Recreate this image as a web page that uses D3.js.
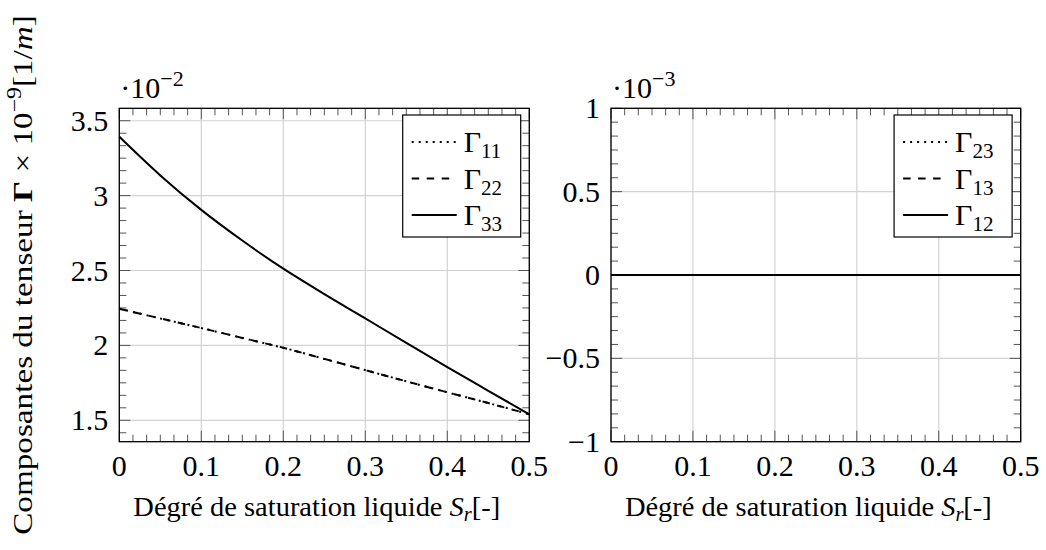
<!DOCTYPE html>
<html>
<head>
<meta charset="utf-8">
<script src="https://cdn.jsdelivr.net/npm/d3@7"></script>
<style>
  body { margin: 0; background: #fff; }
  text { font-family: "Liberation Serif", "Times New Roman", serif; fill: #000; }
</style>
</head>
<body>
<div id="chart"></div>
<script>
// Degree of saturation (x) and tensor components
const satValues = [0, 0.05, 0.1, 0.15, 0.2, 0.25, 0.3, 0.35, 0.4, 0.45, 0.5];
// diagonal components, unit 1e-2
const gamma11 = [2.245, 2.18, 2.116, 2.05, 1.984, 1.91, 1.835, 1.76, 1.687, 1.615, 1.54];
const gamma22 = [2.245, 2.18, 2.116, 2.05, 1.984, 1.91, 1.835, 1.76, 1.687, 1.615, 1.54];
const gamma33 = [3.393, 3.135, 2.905, 2.70, 2.512, 2.343, 2.18, 2.017, 1.855, 1.697, 1.54];
// off-diagonal components, unit 1e-3
const gamma23 = [0, 0, 0, 0, 0, 0, 0, 0, 0, 0, 0];
const gamma13 = [0, 0, 0, 0, 0, 0, 0, 0, 0, 0, 0];
const gamma12 = [0, 0, 0, 0, 0, 0, 0, 0, 0, 0, 0];

const xTicks = [0, 0.1, 0.2, 0.3, 0.4, 0.5];
const yTicksLeft = [1.5, 2, 2.5, 3, 3.5];
const yTicksRight = [-1, -0.5, 0, 0.5, 1];

const width = 1046;
const height = 550;

const svg = d3
  .select("#chart")
  .append("svg")
  .attr("width", width)
  .attr("height", height);

const plotTop = 108.3;
const plotBottom = 441.7;
const tickFs = 30;
const labelFs = 28;

// number format like pgfplots (0, 0.1 ... and a real minus sign)
const fmt = (v) => String(+v.toFixed(3)).replace("-", "\u2212");

// squeeze/stretch a text horizontally so it spans the same length as the reference (CM is wider than Times)
function fitWidth(sel, target) {
  const w = sel.node().getBBox().width;
  const cur = sel.attr("transform") || "";
  sel.attr("transform", cur + " scale(" + target / w + ",1)");
}

function drawPanel(opts) {
  const g = svg.append("g");
  const x = d3.scaleLinear().domain([0, 0.5]).range([opts.left, opts.right]);
  const y = d3.scaleLinear().domain(opts.yDomain).range([plotBottom, plotTop]);

  // grid
  g.selectAll(".gx")
    .data(xTicks)
    .join("line")
    .attr("x1", (d) => x(d))
    .attr("x2", (d) => x(d))
    .attr("y1", plotTop)
    .attr("y2", plotBottom)
    .attr("stroke", "#d3d3d3")
    .attr("stroke-width", 1.2);
  g.selectAll(".gy")
    .data(opts.yTicks)
    .join("line")
    .attr("x1", opts.left)
    .attr("x2", opts.right)
    .attr("y1", (d) => y(d))
    .attr("y2", (d) => y(d))
    .attr("stroke", "#d3d3d3")
    .attr("stroke-width", 1.2);

  // minor ticks, 5 between each pair of majors
  const xMinor = d3.range(0, 31).map((k) => k * (0.1 / 6)).filter((v) => Math.round(v * 600) % 60 !== 0);
  const yStep = 0.5 / 6;
  const yMinor = d3
    .range(-30, 60)
    .map((k) => opts.yTicks[0] + k * yStep)
    .filter((v) => v >= opts.yDomain[0] - 1e-9 && v <= opts.yDomain[1] + 1e-9)
    .filter((v) => Math.abs(v * 2 - Math.round(v * 2)) > 1e-6);

  const tickCol = "#555";
  function xTickMarks(data, len) {
    [plotBottom, plotTop].forEach((yy, i) => {
      g.selectAll(null)
        .data(data)
        .join("line")
        .attr("x1", (d) => x(d))
        .attr("x2", (d) => x(d))
        .attr("y1", yy)
        .attr("y2", i === 0 ? yy - len : yy + len)
        .attr("stroke", tickCol)
        .attr("stroke-width", 1);
    });
  }
  function yTickMarks(data, len) {
    [opts.left, opts.right].forEach((xx, i) => {
      g.selectAll(null)
        .data(data)
        .join("line")
        .attr("y1", (d) => y(d))
        .attr("y2", (d) => y(d))
        .attr("x1", xx)
        .attr("x2", i === 0 ? xx + len : xx - len)
        .attr("stroke", tickCol)
        .attr("stroke-width", 1);
    });
  }
  xTickMarks(xMinor, 7);
  xTickMarks(xTicks, 11);
  yTickMarks(yMinor, 7);
  yTickMarks(opts.yTicks, 11);

  // curves
  const line = d3
    .line()
    .x((d, i) => x(satValues[i]))
    .y((d) => y(d))
    .curve(d3.curveMonotoneX);

  opts.series.forEach((s) => {
    g.append("path")
      .datum(s.values)
      .attr("d", line)
      .attr("fill", "none")
      .attr("stroke", "#000")
      .attr("stroke-width", 2)
      .attr("stroke-dasharray", s.dash);
  });

  // frame
  g.append("rect")
    .attr("x", opts.left)
    .attr("y", plotTop)
    .attr("width", opts.right - opts.left)
    .attr("height", plotBottom - plotTop)
    .attr("fill", "none")
    .attr("stroke", "#000")
    .attr("stroke-width", 1.3);

  // tick labels
  g.selectAll(null)
    .data(xTicks)
    .join("text")
    .attr("x", (d) => x(d))
    .attr("y", 476)
    .attr("text-anchor", "middle")
    .attr("font-size", tickFs)
    .text((d) => fmt(d));
  g.selectAll(null)
    .data(opts.yTicks)
    .join("text")
    .attr("x", opts.left - 11)
    .attr("y", (d) => y(d) + 10)
    .attr("text-anchor", "end")
    .attr("font-size", tickFs)
    .text((d) => fmt(d));

  // exponent above the axis
  const ex = g.append("text").attr("x", opts.left + 1).attr("y", 98).attr("font-size", tickFs);
  ex.append("tspan").text("\u00b710");
  ex.append("tspan").attr("dy", -12).attr("font-size", 22).text("\u2212" + opts.exp);

  // x label
  const cx = (opts.left + opts.right) / 2 - 7.5;
  const xl = g
    .append("text")
    .attr("x", 0)
    .attr("y", 0)
    .attr("transform", "translate(" + cx + ",516)")
    .attr("text-anchor", "middle")
    .attr("font-size", labelFs);
  xl.append("tspan").text("Dégré de saturation liquide ");
  xl.append("tspan").attr("font-style", "italic").text("S");
  xl.append("tspan").attr("font-size", 20).attr("dy", 5).attr("font-style", "italic").text("r");
  xl.append("tspan").attr("dy", -5).text("[-]");
  fitWidth(xl, 367);

  // legend
  const lx = opts.right - 126.6;
  const ly = 115;
  g.append("rect")
    .attr("x", lx)
    .attr("y", ly)
    .attr("width", 118)
    .attr("height", 122)
    .attr("fill", "#fff")
    .attr("stroke", "#000")
    .attr("stroke-width", 1.2);
  opts.series.forEach((s, i) => {
    const yy = ly + 27 + i * 36.5;
    g.append("line")
      .attr("x1", lx + 9)
      .attr("x2", lx + 54)
      .attr("y1", yy)
      .attr("y2", yy)
      .attr("stroke", "#000")
      .attr("stroke-width", 2)
      .attr("stroke-dasharray", s.dash);
    const t = g.append("text").attr("x", lx + 61).attr("y", yy + 10).attr("font-size", tickFs);
    t.append("tspan").text("\u0393");
    t.append("tspan").attr("font-size", 21).attr("dy", 6).text(s.name);
  });
}

drawPanel({
  left: 119.3,
  right: 529.3,
  yDomain: [1.357, 3.583],
  yTicks: yTicksLeft,
  exp: "2",
  series: [
    { name: "11", values: gamma11, dash: "2,5" },
    { name: "22", values: gamma22, dash: "7.5,7.5" },
    { name: "33", values: gamma33, dash: null },
  ],
});

drawPanel({
  left: 611,
  right: 1020.7,
  yDomain: [-1, 1],
  yTicks: yTicksRight,
  exp: "3",
  series: [
    { name: "23", values: gamma23, dash: "2,5" },
    { name: "13", values: gamma13, dash: "7.5,7.5" },
    { name: "12", values: gamma12, dash: null },
  ],
});

// shared y label
const yl = svg
  .append("text")
  .attr("x", 0)
  .attr("y", 0)
  .attr("transform", "translate(32,275) rotate(-90)")
  .attr("text-anchor", "middle")
  .attr("font-size", labelFs);
yl.append("tspan").text("Composantes du tenseur ");
yl.append("tspan").attr("font-weight", "bold").text("\u0393");
yl.append("tspan").text(" \u00d7 10");
yl.append("tspan").attr("dy", -11).attr("font-size", 20).text("\u22129");
yl.append("tspan").attr("dy", 11).text("[1/");
yl.append("tspan").attr("font-style", "italic").text("m");
yl.append("tspan").text("]");
fitWidth(yl, 520);
</script>
</body>
</html>
